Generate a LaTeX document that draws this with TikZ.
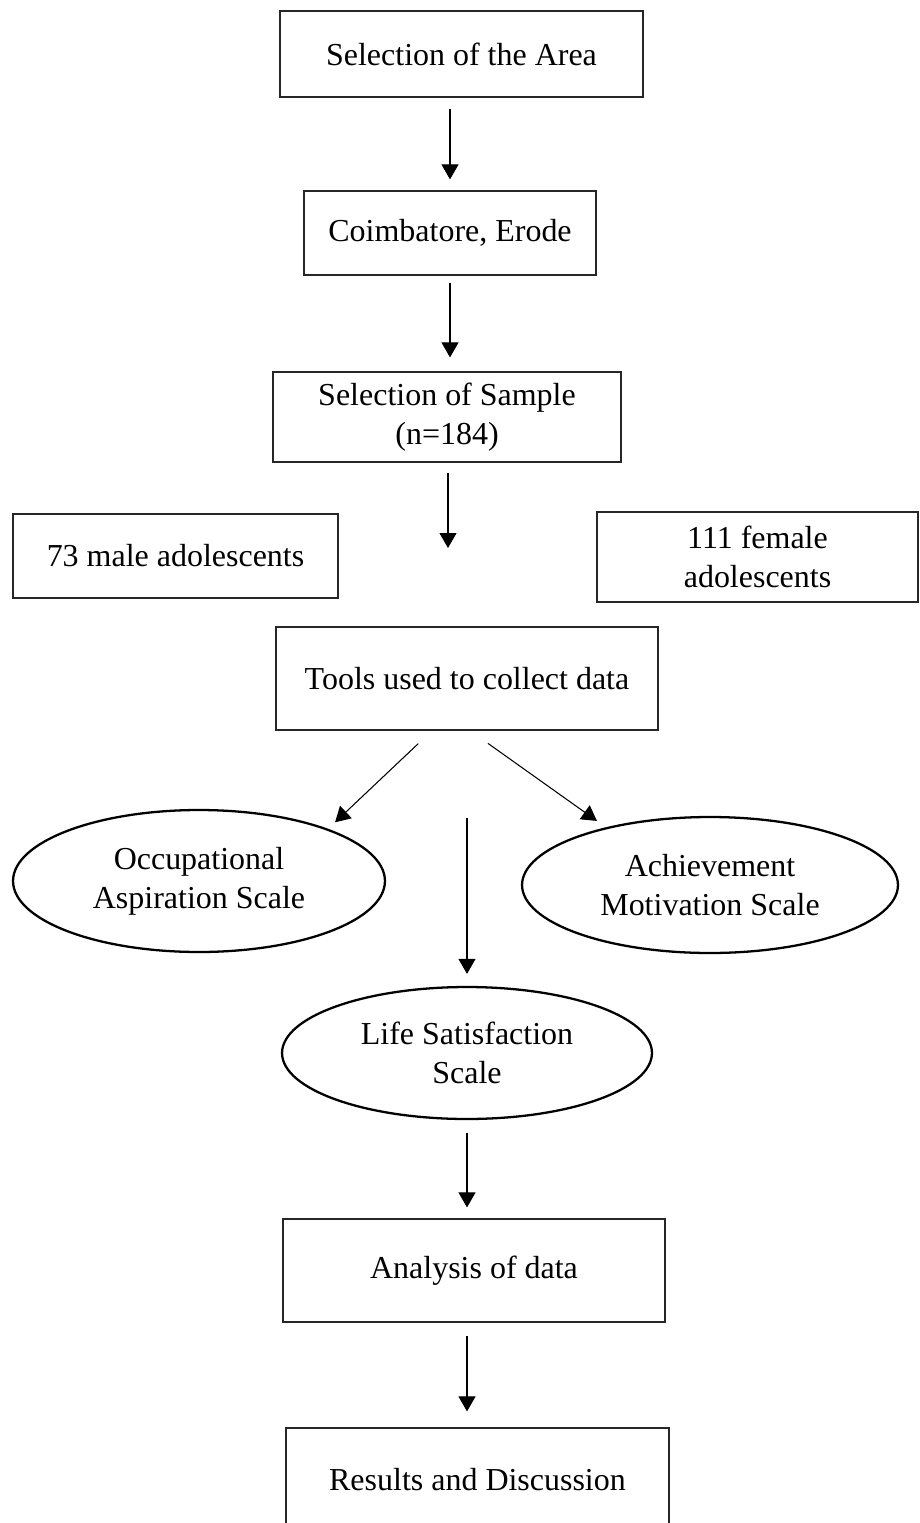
\documentclass[tikz,border=0pt]{standalone}
\usepackage{fontspec}
\setmainfont{Liberation Serif}
\usepackage{tikz}
\usetikzlibrary{arrows.meta,shapes.geometric}
\newcommand\boxfont{\fontsize{18.2}{22.4}\selectfont}

\begin{document}
\begin{tikzpicture}[
  x=0.02cm,y=-0.02cm,
  blk/.style={draw=black!85,line width=.7pt,align=center,inner sep=0pt,font=\boxfont},
  oval/.style={draw=black,ellipse,line width=1.3pt,align=center,inner sep=0pt,font=\boxfont},
  arr/.style={-{Triangle[length=3mm,width=3.4mm]},line width=.6pt}
]
\useasboundingbox (0,0) rectangle (919,1523);
\clip (0,0) rectangle (919,1523);
\node[blk,minimum width=7.26cm,minimum height=1.72cm] (area) at (461.5,54) {Selection of the Area};
\node[blk,minimum width=5.84cm,minimum height=1.68cm] (place) at (450,233) {Coimbatore, Erode};
\node[blk,minimum width=6.96cm,minimum height=1.8cm] (sample) at (447,417) {Selection of Sample\\(n=184)};
\node[blk,minimum width=6.5cm,minimum height=1.68cm] (male) at (175.5,556) {73 male adolescents};
\node[blk,minimum width=6.42cm,minimum height=1.8cm] (female) at (757.5,557) {111 female\\adolescents};
\node[blk,minimum width=7.64cm,minimum height=2.06cm] (tools) at (467,678.5) {Tools used to collect data};
\node[oval,minimum width=7.44cm,minimum height=2.84cm] (occ) at (199,881) {Occupational\\Aspiration Scale};
\node[oval,minimum width=7.52cm,minimum height=2.72cm] (ach) at (710,885) {Achievement\\Motivation Scale};
\node[oval,minimum width=7.4cm,minimum height=2.64cm] (life) at (467,1053) {Life Satisfaction\\Scale};
\node[blk,minimum width=7.64cm,minimum height=2.06cm] (analysis) at (474,1270.5) {Analysis of data};
\node[blk,minimum width=7.66cm,minimum height=2.06cm] (results) at (477.5,1479.5) {Results and Discussion};
\coordinate (split) at (448,548);
% connectors
\draw[arr,shorten <=0.22cm,shorten >=0.22cm] (area.south -| place.north) -- (place.north);
\draw[arr,shorten <=0.14cm,shorten >=0.28cm] (place.south) -- (place.south |- sample.north);
\draw[arr,shorten <=0.2cm] (sample.south -| split) -- (split);
\draw[arr,shorten <=0.38cm,shorten >=0.19cm] ([xshift=-0.7cm]tools.south) -- (occ.22);
\draw[arr,shorten <=0.44cm,shorten >=0.22cm] ([xshift=0.06cm]tools.south) -- (ach.151);
\draw[arr,shorten <=1.74cm,shorten >=0.24cm] (tools.south) -- (tools.south |- life.north);
\draw[arr,shorten <=0.26cm,shorten >=0.22cm] (life.south) -- (life.south |- analysis.north);
\draw[arr,shorten <=0.26cm,shorten >=0.32cm] (analysis.south -| life.south) -- (results.north -| life.south);
\end{tikzpicture}
\end{document}
